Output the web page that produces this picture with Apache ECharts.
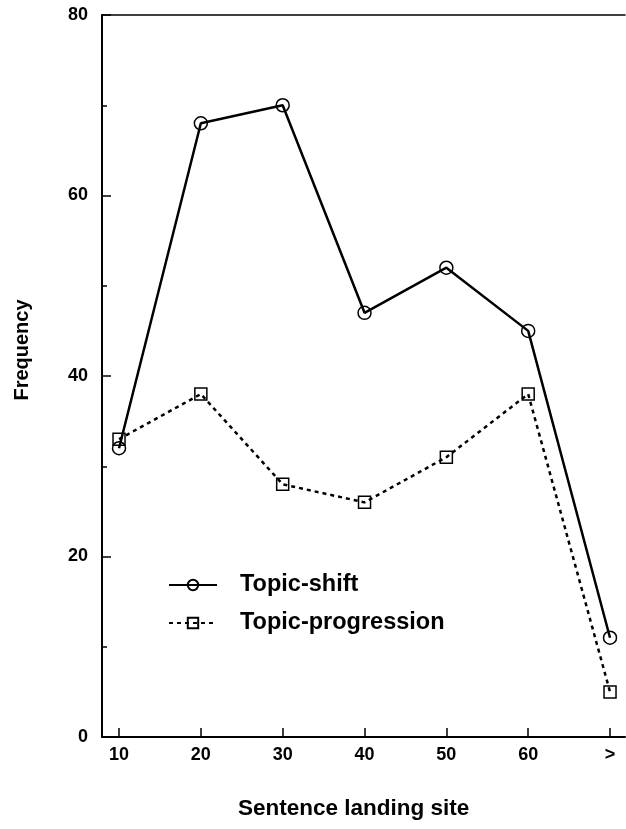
<!DOCTYPE html>
<html>
<head>
<meta charset="utf-8">
<script src="https://cdn.jsdelivr.net/npm/echarts@6/dist/echarts.min.js"></script>
<style>html,body{margin:0;padding:0;background:#fff}#c{width:626px;height:829px}</style>
</head>
<body>
<div id="c"></div>
<script>
// Data
const categoryLabels = ['10', '20', '30', '40', '50', '60', '>'];
const categoryPositions = [10, 20, 30, 40, 50, 60, 70];
const topicShift = [32, 68, 70, 47, 52, 45, 11];
const topicProgression = [33, 38, 28, 26, 31, 38, 5];
const yTicks = [0, 20, 40, 60, 80];

const font = '"Liberation Sans", Arial, Helvetica, sans-serif';
const chart = echarts.init(document.getElementById('c'), null, {renderer: 'canvas'});
const pairs = (ys) => ys.map((v, i) => [categoryPositions[i], v]);
const labelMap = {};
categoryPositions.forEach((p, i) => { labelMap[p] = categoryLabels[i]; });

chart.setOption({
  backgroundColor: '#fff',
  animation: false,
  title: {
    text: 'Sentence landing site',
    left: 238, top: 797, padding: 0,
    textStyle: {fontFamily: font, fontSize: 22.5, fontWeight: 'bold', color: '#000'}
  },
  graphic: [{
    type: 'text', x: 22, y: 350, rotation: Math.PI / 2,
    style: {text: 'Frequency', font: 'bold 20px ' + font, fill: '#000', align: 'center', verticalAlign: 'middle'}
  }],
  grid: {left: 102, right: 1, top: 15, bottom: 92, containLabel: false},
  legend: {
    orient: 'vertical', left: 168, top: 566, padding: 0,
    itemWidth: 48, itemHeight: 13, itemGap: 0,
    textStyle: {fontFamily: font, fontSize: 23.5, fontWeight: 'bold', color: '#000', lineHeight: 38, padding: [0, 0, 0, 18]},
    data: ['Topic-shift', 'Topic-progression']
  },
  xAxis: [{
    type: 'value', min: 7.92, max: 71.83,
    axisLine: {show: true, lineStyle: {color: '#000', width: 2}},
    axisTick: {show: true, inside: true, length: 9, customValues: categoryPositions, lineStyle: {color: '#000', width: 1.5}},
    axisLabel: {customValues: categoryPositions, formatter: (v) => labelMap[v] ?? '', margin: 9,
      fontFamily: font, fontSize: 18, fontWeight: 'bold', color: '#000'},
    splitLine: {show: false}
  }, {
    type: 'value', position: 'top', min: 7.92, max: 71.83,
    axisLine: {show: true, onZero: false, lineStyle: {color: '#000', width: 1.5}},
    axisTick: {show: false}, axisLabel: {show: false}, splitLine: {show: false}
  }],
  yAxis: {
    type: 'value', min: 0, max: 80, interval: 20,
    axisLine: {show: true, lineStyle: {color: '#000', width: 2}},
    axisTick: {show: true, inside: true, length: 9, lineStyle: {color: '#000', width: 1.5}},
    minorTick: {show: true, splitNumber: 2, length: 5, lineStyle: {color: '#000', width: 1.5}},
    axisLabel: {margin: 14, fontFamily: font, fontSize: 18, fontWeight: 'bold', color: '#000',
      formatter: (v) => yTicks.includes(v) ? String(v) : ''},
    splitLine: {show: false}
  },
  series: [{
    name: 'Topic-shift', type: 'line', data: pairs(topicShift),
    symbol: 'circle', symbolSize: 13,
    lineStyle: {color: '#000', width: 2.5, type: 'solid'},
    itemStyle: {color: 'rgba(255,255,255,0)', borderColor: '#000', borderWidth: 1.5}
  }, {
    name: 'Topic-progression', type: 'line', data: pairs(topicProgression),
    symbol: 'rect', symbolSize: 12,
    lineStyle: {color: '#000', width: 2.5, type: [4, 4]},
    itemStyle: {color: 'rgba(255,255,255,0)', borderColor: '#000', borderWidth: 1.5}
  }]
});
</script>
</body>
</html>
